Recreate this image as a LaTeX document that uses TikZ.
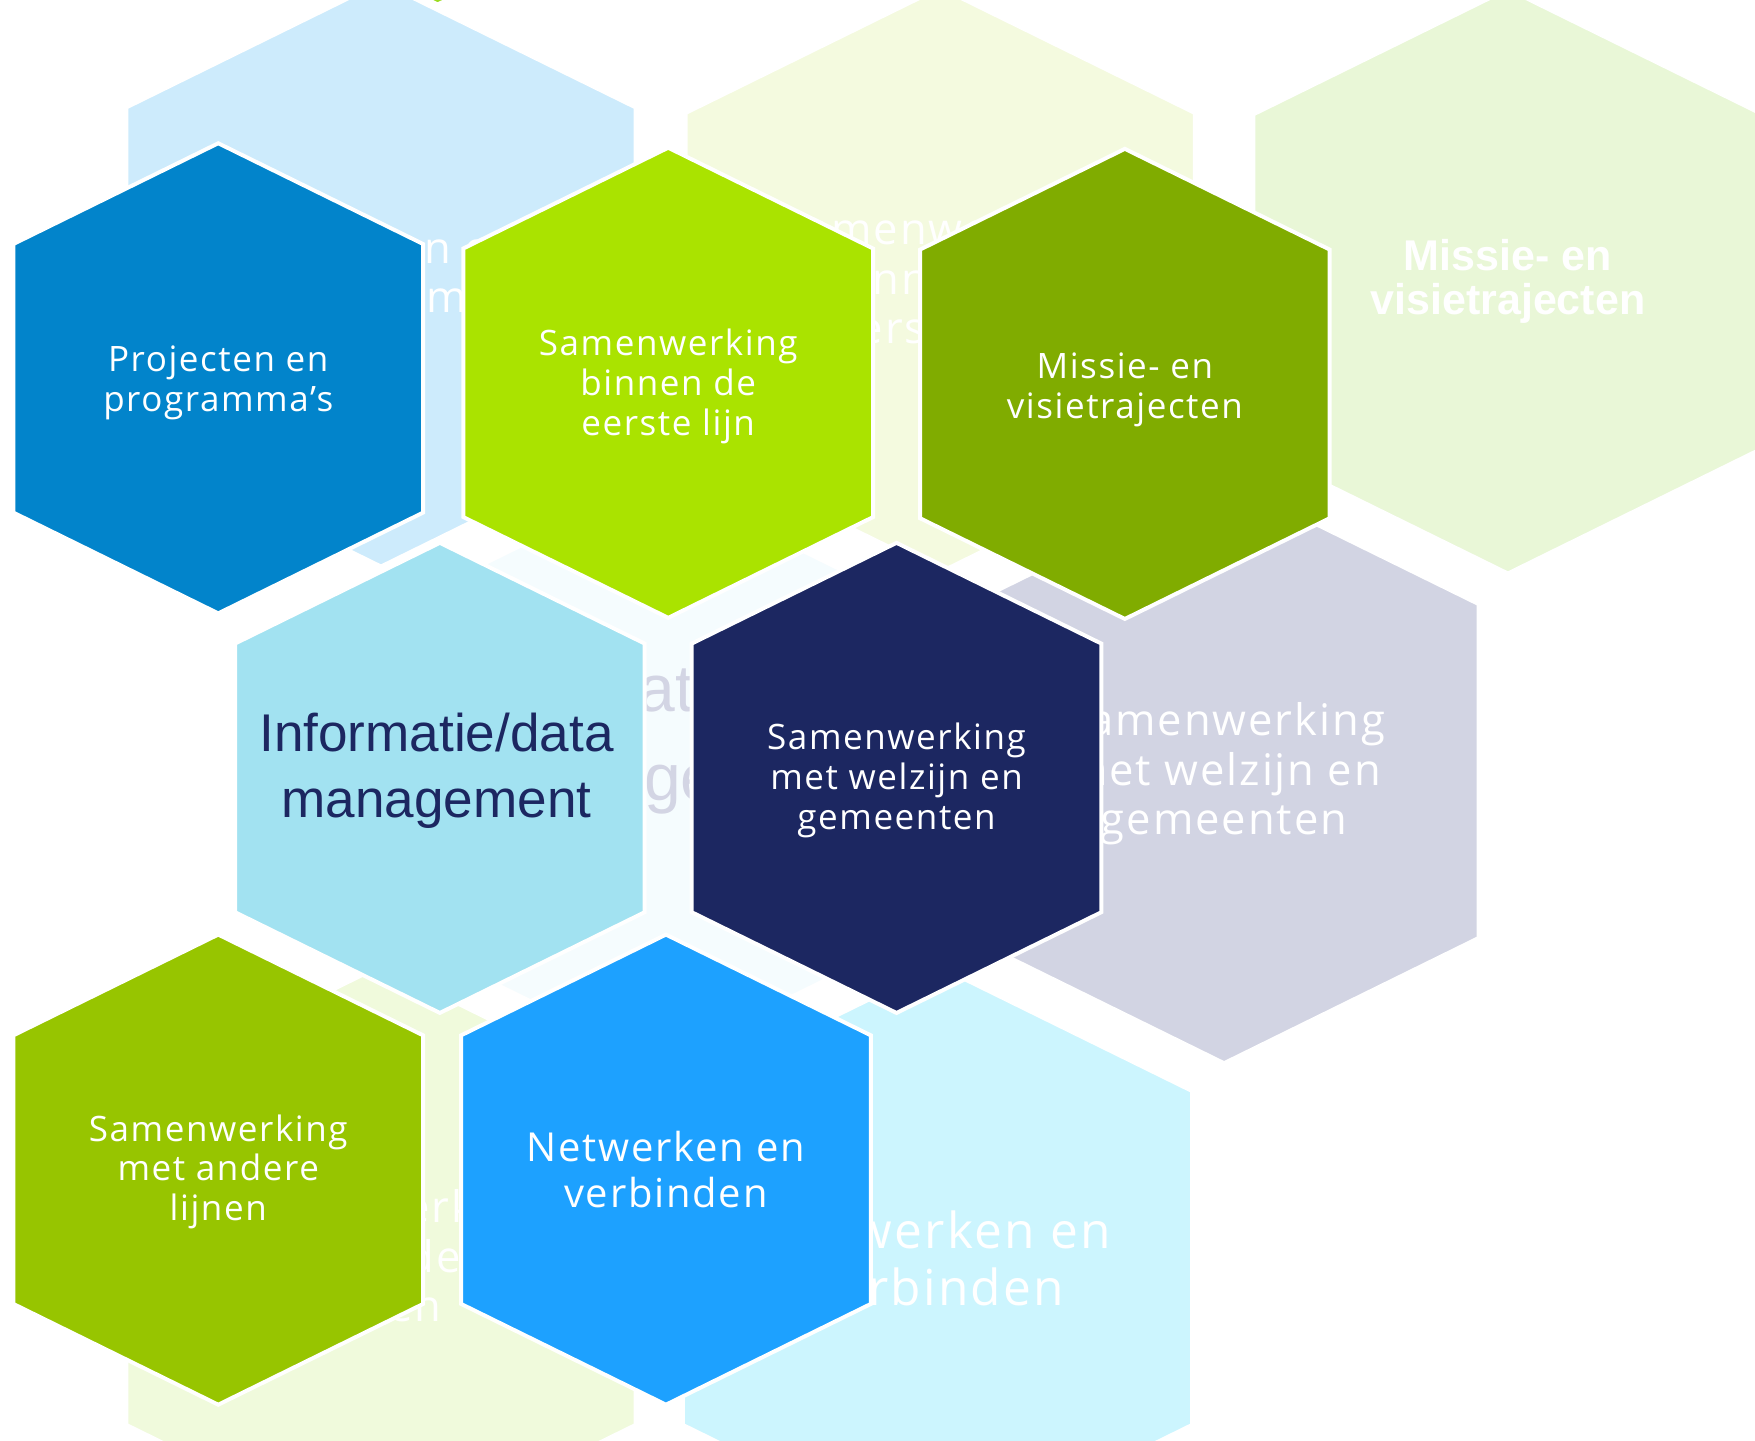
\documentclass[tikz,border=0pt]{standalone}
\usepackage{fontspec}
\newfontfamily\zeshoekfont{Open Sans}[LetterSpace=4.5]
\newfontfamily\arialfont{Liberation Sans}
\definecolor{blauw}{HTML}{0284CB}
\definecolor{limoen}{HTML}{AAE300}
\definecolor{olijf}{HTML}{80AC00}
\definecolor{lichtcyaan}{HTML}{A2E2F1}
\definecolor{marine}{HTML}{1C2761}
\definecolor{gras}{HTML}{97C500}
\definecolor{hemel}{HTML}{1DA1FF}
\definecolor{bleekblauw}{HTML}{CDEBFC}
\definecolor{bleekgeel}{HTML}{F4FADF}
\definecolor{bleekgroen}{HTML}{E9F7D7}
\definecolor{bleekcyaan}{HTML}{F5FCFE}
\definecolor{bleekpaars}{HTML}{D2D4E3}
\definecolor{bleekmos}{HTML}{F0FADC}
\definecolor{bleekhemel}{HTML}{CCF5FE}
\definecolor{grijs}{HTML}{D3D5E4}
\definecolor{tip}{HTML}{9BDB1F}
\newcommand{\zeshoek}[2]{
	\filldraw [fill=#2, draw=white, line width=2pt] (#1) ++(0,-210) -- ++(183,90) -- ++(0,240) -- ++(-183,90) -- ++(-183,-90) -- ++(0,-240) -- cycle;
	}
\tikzset{
	tekst/.style={text=white, align=center, font=\zeshoekfont\fontsize{17.8}{20.3}\selectfont},
	groot/.style={font=\zeshoekfont\fontsize{20.3}{23.3}\selectfont},
	schim/.style={tekst, text=white},
}

\begin{document}
\begin{tikzpicture}[x=0.02cm, y=-0.02cm]
	\path [use as bounding box, fill=white] (0,0) rectangle (1568,1287);
	\clip (0,0) rectangle (1568,1287);
	\zeshoek{391,-206}{tip}
	\begin{scope}[shift={(98,-175)}, scale=1.243, transform shape]
		\zeshoek{195,338}{bleekblauw}
		\zeshoek{597,342}{bleekgeel}
		\zeshoek{1005,343}{bleekgroen}
		\zeshoek{393,695}{bleekcyaan}
		\zeshoek{801,695}{bleekpaars}
		\zeshoek{195,1045}{bleekmos}
		\zeshoek{595,1045}{bleekhemel}
		\node [schim] (schimprojecten) at (195,340) {Projecten en\\programma’s};
		\node [schim] (schimbinnen) at (597,344) {Samenwerking\\binnen de\\eerste lijn};
		\node [schim, font=\arialfont\bfseries\fontsize{17.6}{18.3}\selectfont] (schimmissie) at (1005,343) {Missie- en\\visietrajecten};
		\node [schim, text=grijs, font=\arialfont\fontsize{27}{36.6}\selectfont] (schiminformatie) at (404,672) {Informatie/data\\management};
		\node [schim] (schimwelzijn) at (801,697) {Samenwerking\\met welzijn en\\gemeenten};
		\node [schim] (schimandere) at (195,1047) {Samenwerking\\met andere\\lijnen};
		\node [schim, groot] (schimnetwerken) at (595,1045) {Netwerken en\\verbinden};
	\end{scope}
	\zeshoek{195,338}{blauw}
	\zeshoek{597,342}{limoen}
	\zeshoek{1005,343}{olijf}
	\zeshoek{393,695}{lichtcyaan}
	\zeshoek{801,695}{marine}
	\zeshoek{195,1045}{gras}
	\zeshoek{595,1045}{hemel}
	\node [tekst] (projecten) at (195,342) {Projecten en\\programma’s};
	\node [tekst] (binnen) at (597,345) {Samenwerking\\binnen de\\eerste lijn};
	\node [tekst] (missie) at (1005,348) {Missie- en\\visietrajecten};
	\node [tekst, text=marine, font=\arialfont\fontsize{27}{33.6}\selectfont] (informatie) at (390,689) {Informatie/data\\management};
	\node [tekst] (welzijn) at (801,697) {Samenwerking\\met welzijn en\\gemeenten};
	\node [tekst] (andere) at (195,1047) {Samenwerking\\met andere\\lijnen};
	\node [tekst, groot] (netwerken) at (595,1045) {Netwerken en\\verbinden};
\end{tikzpicture}
\end{document}
